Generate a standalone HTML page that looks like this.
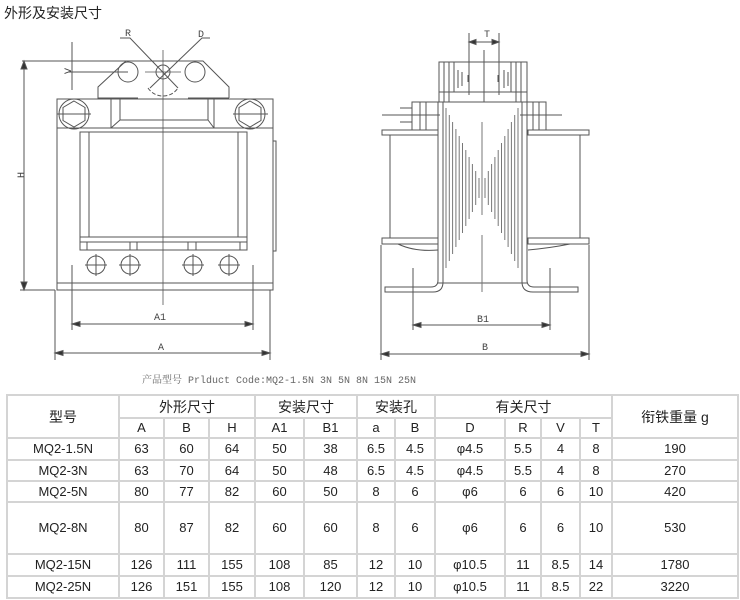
<!DOCTYPE html>
<html><head><meta charset="utf-8"><style>
body{margin:0;background:#fff;width:740px;height:600px;overflow:hidden;position:relative;font-family:"Liberation Sans","Noto Sans CJK SC",sans-serif}
.t{position:absolute;left:4px;top:3px;font-size:14px;color:#222}
svg{position:absolute;left:0;top:0}
table{position:absolute;left:6px;top:394px;width:733px;border-collapse:collapse;font-size:13px;color:#222;font-family:"Liberation Sans","Noto Sans CJK SC",sans-serif}
td{border:2px solid #d4d4d4;text-align:center;padding:0;line-height:14px}
</style></head><body>
<div class="t">外形及安装尺寸</div>
<svg width="740" height="392" viewBox="0 0 740 392" fill="none" stroke="#555" stroke-width="1">
<!-- LEFT -->
<path d="M126 61H203L229 87V98M126 61L98 87V98H138M188 98H229"/>
<circle cx="128" cy="72" r="10"/><circle cx="163" cy="72" r="7"/><circle cx="195" cy="72" r="10"/>
<path d="M148 88A18 18 0 0 0 178 88" stroke-dasharray="4 2"/>
<path d="M57 99H273V290H57Z M57 128H273 M57 283H273"/>
<path d="M111 99V128 M214 99V128 M120 99V120H208V99 M111 128L120 120 M214 128L208 120"/>
<circle cx="74" cy="114" r="15"/><path d="M74 101L85 107.5V120.5L74 127L63 120.5V107.5Z M57 114H91"/>
<circle cx="250" cy="114" r="15"/><path d="M250 101L261 107.5V120.5L250 127L239 120.5V107.5Z M233 114H268"/>
<path d="M80 132H247V250H80Z M89 132V237 M238 132V237 M80 237H247 M80 242H247"/>
<path d="M87 242V250 M137 242V250 M130 242V250 M188 242V250 M196 242V250 M240 242V250"/>
<g><circle cx="96" cy="265" r="9"/><circle cx="130" cy="265" r="9"/><circle cx="193" cy="265" r="9"/><circle cx="229" cy="265" r="9"/>
<path d="M85 265H107M96 254V276M119 265H141M130 254V276M182 265H204M193 254V276M218 265H240M229 254V276"/></g>
<path d="M273 141H276V251H273"/>
<path d="M163 50V305 M145 72H181" stroke-width=".8"/>
<path d="M22 61H200 M20 290H55 M24 61V290 M72 42V90 M68 72H128"/>
<path d="M24 61l-3 8h6z M24 290l-3-8h6z" fill="#333"/>
<path d="M120 38H130L178 88 M210 38H202L150 88"/>
<path d="M72 265V330 M253 265V330 M72 324H253 M55 290V360 M270 290V360 M55 353H270"/>
<path d="M72 324l8-2.5v5z M253 324l-8-2.5v5z M55 353l8-2.5v5z M270 353l-8-2.5v5z" fill="#333"/>
<g fill="#444" stroke="none" font-family="Liberation Mono,monospace" font-size="10">
<text x="154" y="320">A1</text><text x="158" y="350">A</text><text x="125" y="36">R</text><text x="198" y="37">D</text>
<text transform="translate(24 178) rotate(-90)">H</text><text transform="translate(71 74) rotate(-90)">V</text>
<text x="484" y="37">T</text><text x="477" y="322">B1</text><text x="482" y="350">B</text>
</g>
<text x="142" y="383" fill="#666" stroke="none" font-family="Liberation Mono,'Noto Serif CJK SC',monospace" font-size="10">产品型号 Prlduct Code:MQ2-1.5N 3N 5N 8N 15N 25N</text>
<!-- RIGHT -->
<path d="M439 62H527V102H439Z M439 92H527"/>
<path d="M444 62V102M449 62V102M454 62V92M516 62V102M521 62V102M511 62V92 M458 70V88M462 72V86M504 70V88M508 72V86M468 75V82M498 75V82"/>
<path d="M469 33V95 M499 33V95 M469 42H499 M484 50V102"/>
<path d="M469 42l7-2.5v5z M499 42l-7-2.5v5z" fill="#333"/>
<path d="M438 102V280Q438 287 431 287H385V292H433Q443 292 443 282V102 M527 102V280Q527 287 534 287H578V292H533Q522 292 522 282V102 M438 283H527"/>
<path d="M412 102H438V130H412Z M420 102V130 M426 102V130 M400 108H412V122H400 M382 115H440"/>
<path d="M527 102H546V130H527Z M533 102V130 M539 102V130 M520 115H562"/>
<path d="M382 130H438V135H382Z M390 135V238 M382 238H438V244H382Z M398 244Q415 252 438 250"/>
<path d="M528 130H589V135H528Z M580 135V238 M528 238H589V244H528Z M528 250Q550 248 570 244"/>
<g stroke="#777">
<path d="M446 108V268M449.3 115V261M452.6 122V254M455.9 129V247M459.2 136V240M462.5 143V233M465.8 150V226M469.1 157V219M472.4 164V212M475.7 171V205M479 178V198"/>
<path d="M518 108V268M514.7 115V261M511.4 122V254M508.1 129V247M504.8 136V240M501.5 143V233M498.2 150V226M494.9 157V219M491.6 164V212M488.3 171V205M485 178V198"/>
<path d="M482 122V215M482 235V292"/>
</g>
<path d="M413 268V330 M550 268V330 M413 325H550 M381 245V360 M589 245V360 M381 354H589"/>
<path d="M413 325l8-2.5v5z M550 325l-8-2.5v5z M381 354l8-2.5v5z M589 354l-8-2.5v5z" fill="#333"/>
</svg>
<table>
<colgroup><col style="width:112px"><col style="width:45px"><col style="width:45px"><col style="width:46px"><col style="width:49px"><col style="width:53px"><col style="width:38px"><col style="width:40px"><col style="width:70px"><col style="width:36px"><col style="width:39px"><col style="width:32px"><col></colgroup>
<tr style="height:23px"><td rowspan="2" style="font-size:14px">型号</td><td colspan="3" style="font-size:14px">外形尺寸</td><td colspan="2" style="font-size:14px">安装尺寸</td><td colspan="2" style="font-size:14px">安装孔</td><td colspan="4" style="font-size:14px">有关尺寸</td><td rowspan="2" style="font-size:14px">衔铁重量 g</td></tr>
<tr style="height:20px"><td>A</td><td>B</td><td>H</td><td>A1</td><td>B1</td><td>a</td><td>B</td><td>D</td><td>R</td><td>V</td><td>T</td></tr>
<tr style="height:22px"><td>MQ2-1.5N</td><td>63</td><td>60</td><td>64</td><td>50</td><td>38</td><td>6.5</td><td>4.5</td><td>φ4.5</td><td>5.5</td><td>4</td><td>8</td><td>190</td></tr>
<tr style="height:21px"><td>MQ2-3N</td><td>63</td><td>70</td><td>64</td><td>50</td><td>48</td><td>6.5</td><td>4.5</td><td>φ4.5</td><td>5.5</td><td>4</td><td>8</td><td>270</td></tr>
<tr style="height:21px"><td>MQ2-5N</td><td>80</td><td>77</td><td>82</td><td>60</td><td>50</td><td>8</td><td>6</td><td>φ6</td><td>6</td><td>6</td><td>10</td><td>420</td></tr>
<tr style="height:52px"><td>MQ2-8N</td><td>80</td><td>87</td><td>82</td><td>60</td><td>60</td><td>8</td><td>6</td><td>φ6</td><td>6</td><td>6</td><td>10</td><td>530</td></tr>
<tr style="height:22px"><td>MQ2-15N</td><td>126</td><td>111</td><td>155</td><td>108</td><td>85</td><td>12</td><td>10</td><td>φ10.5</td><td>11</td><td>8.5</td><td>14</td><td>1780</td></tr>
<tr style="height:22px"><td>MQ2-25N</td><td>126</td><td>151</td><td>155</td><td>108</td><td>120</td><td>12</td><td>10</td><td>φ10.5</td><td>11</td><td>8.5</td><td>22</td><td>3220</td></tr>
</table>
</body></html>
